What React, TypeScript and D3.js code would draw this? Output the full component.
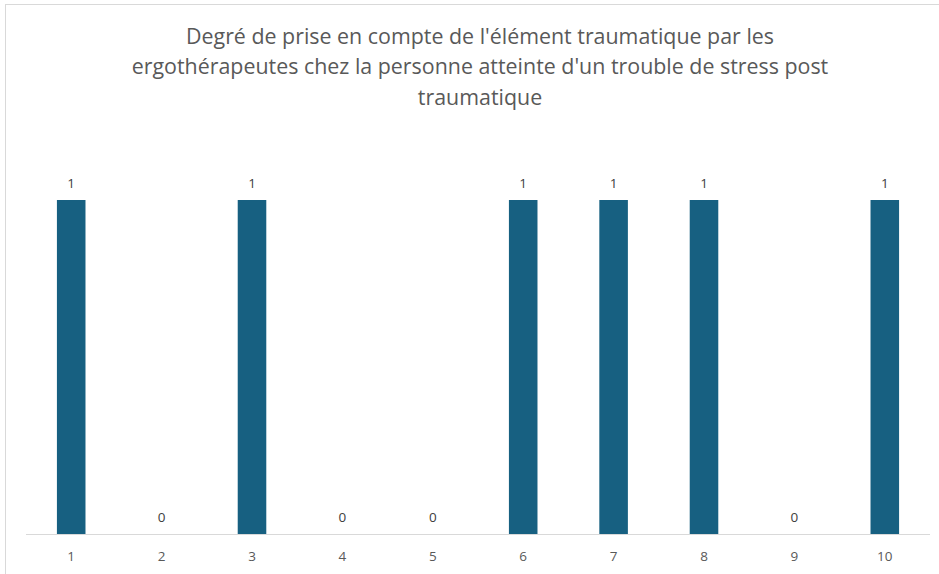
import React, { useEffect, useRef } from 'react';
import * as d3 from 'd3';

const width = 939;
const height = 574;
const margin = { top: 200, right: 9, bottom: 40, left: 26 };

const categories = ['1', '2', '3', '4', '5', '6', '7', '8', '9', '10'];
const values = [1, 0, 1, 0, 0, 1, 1, 1, 0, 1];
const titleLines = [
    "Degré de prise en compte de l'élément traumatique par les",
    "ergothérapeutes chez la personne atteinte d'un trouble de stress post",
    'traumatique',
];

const font = '"Open Sans", Roboto, sans-serif';

export default function App() {
    const ref = useRef<SVGSVGElement>(null);

    useEffect(() => {
        const svg = d3.select(ref.current);
        svg.selectAll('*').remove();

        // chart frame, runs off the right and bottom edges like the screenshot
        svg.append('rect')
            .attr('x', 5.5).attr('y', 4.5)
            .attr('width', width + 10).attr('height', height + 10)
            .attr('fill', '#fff').attr('stroke', '#d9d9d9');

        svg.append('g')
            .selectAll('text')
            .data(titleLines)
            .join('text')
            .attr('x', 480)
            .attr('y', (d, i) => 43.5 + i * 30.5)
            .attr('text-anchor', 'middle')
            .style('font-family', font)
            .style('font-size', '21.4px')
            .attr('fill', '#595959')
            .text(d => d);

        const x = d3.scaleBand()
            .domain(categories)
            .range([margin.left, width - margin.right])
            .paddingInner(0.684)
            .paddingOuter(0.342);

        const y = d3.scaleLinear()
            .domain([0, 1])
            .range([height - margin.bottom, margin.top]);

        const baseY = y(0);

        svg.append('g')
            .selectAll('rect')
            .data(values)
            .join('rect')
            .attr('x', (d, i) => x(categories[i])!)
            .attr('y', d => y(d))
            .attr('width', x.bandwidth())
            .attr('height', d => baseY - y(d))
            .attr('fill', '#176081');

        svg.append('line')
            .attr('x1', margin.left).attr('x2', width - margin.right)
            .attr('y1', baseY + 0.5).attr('y2', baseY + 0.5)
            .attr('stroke', '#d9d9d9');

        svg.append('g')
            .selectAll('text')
            .data(values)
            .join('text')
            .attr('x', (d, i) => x(categories[i])! + x.bandwidth() / 2)
            .attr('y', d => y(d) - 12)
            .attr('text-anchor', 'middle')
            .style('font-family', font)
            .style('font-size', '13.5px')
            .attr('fill', '#404040')
            .text(d => d);

        svg.append('g')
            .selectAll('text')
            .data(categories)
            .join('text')
            .attr('x', d => x(d)! + x.bandwidth() / 2)
            .attr('y', baseY + 27)
            .attr('text-anchor', 'middle')
            .style('font-family', font)
            .style('font-size', '13.5px')
            .attr('fill', '#595959')
            .text(d => d);
    }, []);

    return (
        <svg ref={ref} width={width} height={height}
            style={{ position: 'absolute', left: 0, top: 0 }} />
    );
}
